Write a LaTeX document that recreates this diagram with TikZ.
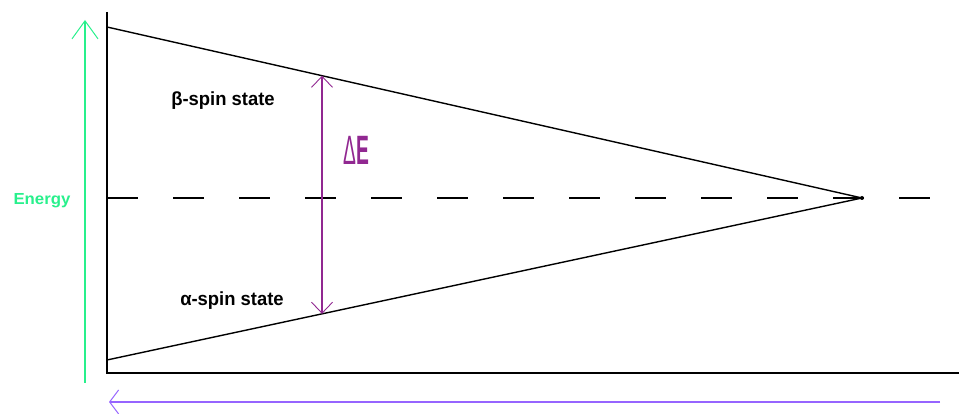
\documentclass[tikz,border=0pt]{standalone}
\usepackage{fontspec}
\setmainfont{Liberation Sans}
\usetikzlibrary{arrows.meta,calc}
\definecolor{engreen}{RGB}{40,240,140}
\definecolor{lavender}{RGB}{150,100,255}
\definecolor{deplum}{RGB}{145,40,145}
\tikzset{
  blk/.style={draw=black,line width=1.4pt},
  lbl/.style={font=\bfseries\fontsize{19}{19}\selectfont,xscale=0.97,inner sep=0pt},
  dEhead/.tip={Straight Barb[length=11pt,width=21pt,line width=0.9pt]}
}
\begin{document}
\begin{tikzpicture}[x=1pt,y=1pt]
\useasboundingbox (0,0) rectangle (959,414);
% axes
\coordinate (top) at (107,402);
\coordinate (O) at (107,41);
\coordinate (right) at (959,41);
\draw[blk] (top) -- (O) -- (right);
% state lines
\coordinate (b0) at (107,387);
\coordinate (a0) at (107,54);
\coordinate (apex) at (862,216);
\draw[blk] (b0) -- (apex);
\draw[blk] (a0) -- (apex);
\fill (apex) circle (2pt);
% dashed middle
\coordinate (dl) at (107,216);
\coordinate (dr) at (930,216);
\draw[line width=1.4pt,dash pattern=on 31pt off 35pt] (dl) -- (dr);
% Delta E arrow
\coordinate (dEt) at ($(b0)!0.2848!(apex)$);
\coordinate (dEb) at ($(a0)!0.2848!(apex)$);
\draw[deplum,line width=1.3pt,dEhead-dEhead] (dEb) -- (dEt);
\node[text=deplum,font=\fontsize{41}{41}\selectfont,xscale=0.47,inner sep=0pt,anchor=base] (dE) at (356,249) {Δ\textbf{E}};
% energy arrow
\coordinate (eb) at (85,31);
\coordinate (et) at (85,394);
\draw[engreen,line width=1.5pt,-{Straight Barb[length=18pt,width=26pt,line width=1pt]}] (eb) -- (et);
\node[text=engreen,font=\bfseries\fontsize{16}{16}\selectfont,xscale=1.05,inner sep=0pt] (energy) at (42,213) {Energy};
% bottom arrow
\coordinate (hr) at (940,12);
\coordinate (hl) at (109,12);
\draw[lavender,line width=1.5pt,-{Straight Barb[length=9pt,width=24pt,line width=1pt]}] (hr) -- (hl);
% labels
\node[lbl] (beta) at (223,313) {β-spin state};
\node[lbl] (alpha) at (232,113) {α-spin state};
\end{tikzpicture}
\end{document}
